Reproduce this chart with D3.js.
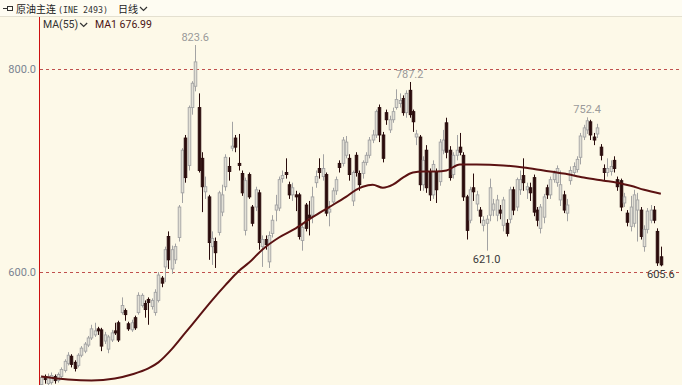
<!DOCTYPE html>
<html>
<head>
<meta charset="utf-8">
<script src="https://cdn.jsdelivr.net/npm/d3@7"></script>
<style>
  body { margin: 0; background: #fdf9e8; }
  svg { display: block; }
</style>
</head>
<body>
<script>
// daily candles, [open, high, low, close]
var ohlc = [
  [489,498,486,496],[497,499,490,494],[490,500,488,497],[491,501,489,498],[497,499,490,493],
  [493,501,491,499],[497,506,495,504],[503,514,501,512],[510,521,508,518],[517,519,506,509],
  [511,513,502,505],[508,520,506,518],[518,527,516,525],[522,531,520,529],[528,537,526,535],
  [535,548,533,544],[538,550,536,542],[544,546,538,542],[543,545,522,527],[532,541,529,538],
  [524,538,520,536],[533,543,531,540],[542,550,538,540],[550,552,531,533],[560,575,558,567],
  [562,564,552,558],[549,551,542,544],[543,553,541,550],[555,557,543,545],[560,580,558,577],
  [567,579,565,577],[569,572,555,563],[573,575,548,570],[566,574,563,572],[560,583,557,580],
  [572,600,570,597],[594,596,585,589],[605,625,590,622],[635,640,603,612],[603,626,598,622],
  [612,628,608,625],[634,666,630,664],[678,722,668,720],[732,735,688,693],[705,764,700,762],
  [762,788,755,786],[783,823.6,778,807],[762,776,698,700],[712,718,659,684],[679,694,672,684],
  [674,676,612,629],[625,640,607,633],[630,634,604,619],[639,680,636,678],[659,686,655,676],
  [684,716,680,713],[704,713,690,699],[722,748,719,724],[732,735,718,723],[707,736,700,705],
  [697,700,675,678],[641,693,636,690],[696,698,672,674],[664,666,645,648],[664,684,660,681],
  [678,681,622,629],[625,636,605,632],[632,636,622,627],[610,640,604,636],[638,656,634,651],
  [661,676,650,666],[663,694,660,691],[692,700,688,695],[698,712,692,696],[686,689,672,676],
  [676,688,670,683],[676,680,660,674],[676,678,632,635],[631,648,621,644],[666,668,640,643],
  [656,670,636,653],[656,684,648,674],[688,700,683,694],[702,712,692,698],[694,716,690,702],
  [696,698,655,658],[659,670,645,662],[669,683,666,680],[680,694,676,691],[707,710,698,703],
  [707,733,704,730],[715,734,712,728],[712,716,690,696],[670,700,665,698],[715,718,694,698],
  [697,700,680,686],[697,710,692,708],[708,718,705,715],[715,733,712,730],[730,740,727,735],
  [735,760,732,758],[762,765,728,735],[735,738,708,712],[757,760,745,750],[740,754,737,750],
  [750,762,747,758],[762,780,760,770],[766,776,762,769],[771,774,754,757],[757,779,752,776],
  [779,787.2,752,755],[758,760,738,748],[733,740,725,736],[733,735,680,686],[686,714,680,710],
  [720,725,678,683],[698,702,670,676],[676,710,672,706],[698,702,668,681],[689,731,685,728],
  [720,740,716,730],[747,752,712,718],[720,724,690,693],[696,718,692,715],[715,735,710,720],
  [723,737,715,718],[715,718,670,674],[674,676,632,641],[651,684,648,681],[683,697,670,679],
  [667,680,660,676],[661,664,648,655],[646,655,640,651],[648,656,621,652],[656,692,650,683],
  [661,672,655,667],[656,676,650,671],[661,666,652,658],[646,674,640,671],[648,652,635,638],
  [652,684,648,681],[681,684,656,661],[664,693,660,691],[681,700,676,691],[695,712,680,688],
  [681,688,672,684],[683,688,670,678],[693,696,655,659],[661,664,645,651],[643,667,638,664],
  [654,677,648,674],[683,686,672,676],[676,694,672,691],[691,700,688,697],[688,705,684,702],
  [671,700,665,686],[676,680,658,661],[658,672,650,666],[690,704,686,700],[698,708,695,704],
  [701,714,698,711],[713,737,706,734],[733,745,730,742],[740,752.4,736,749],[748,750,730,735],
  [733,737,725,730],[736,746,732,742],[723,726,710,715],[702,706,690,698],[698,712,694,702],
  [699,710,695,704],[710,714,698,702],[691,694,680,684],[690,692,660,664],[668,678,664,674],
  [658,661,645,649],[645,675,640,664],[648,681,644,676],[661,678,630,671],[661,664,632,635],
  [625,646,620,642],[642,663,638,660],[651,666,648,661],[661,665,648,651],[640,643,606,609],
  [615,625,605.6,607]
];

var ma55 = [
  [0,497],[8,494],[15,493],[22,495],[27,499],[32,505],[35,511],[39,524],[43,540],[47,556],
  [51,572],[55,587],[59,601],[62,609],[66,622],[71,634],[76,643],[81,654],[86,664],[91,674],
  [94,681],[96,684],[99,686],[102,683],[105,686],[108,693],[111,698],[114,699],[118,699],
  [121,700],[125,706],[130,706],[138,705],[144,703],[150,700],[156,697],[162,693],[168,690],
  [172,688],[176,685],[180,681],[185,677]
];

var yTicks = [600, 800];

// labelled extremes: [candle index, value, "high" | "low"]
var marks = [
  [46, 823.6, "high"], [110, 787.2, "high"], [163, 752.4, "high"],
  [133, 621.0, "low"], [185, 605.6, "low"]
];

var width = 682, height = 385,
    plotTop = 17, plotLeft = 40;

var svg = d3.select("body").append("svg")
    .attr("width", width)
    .attr("height", height);

svg.append("rect")
    .attr("width", width).attr("height", height)
    .attr("fill", "#fdf9e8");

var x = d3.scaleBand()
    .domain(d3.range(ohlc.length))
    .range([plotLeft, 662])
    .paddingInner(0.3);

var y = d3.scaleLinear()
    .domain([600, 800])
    .range([272, 69]);

var cx = function(i) { return x(i) + x.bandwidth() / 2; };

// clip the plotting area
svg.append("clipPath").attr("id", "plot")
  .append("rect")
    .attr("x", plotLeft).attr("y", plotTop)
    .attr("width", width - plotLeft).attr("height", height - plotTop);

var plot = svg.append("g").attr("clip-path", "url(#plot)");

// dashed price lines
plot.selectAll("line.grid")
  .data(yTicks)
  .enter().append("line")
    .attr("class", "grid")
    .attr("x1", plotLeft).attr("x2", width)
    .attr("y1", function(d) { return Math.round(y(d)) + 0.5; })
    .attr("y2", function(d) { return Math.round(y(d)) + 0.5; })
    .attr("stroke", "#c0504d")
    .attr("stroke-width", 1)
    .attr("stroke-dasharray", "3,3");

// y axis labels
var yAxis = d3.axisLeft(y)
    .tickValues(yTicks)
    .tickFormat(d3.format(".1f"))
    .tickSize(0)
    .tickPadding(3);

var gy = svg.append("g")
    .attr("transform", "translate(" + (plotLeft - 1) + ",0)")
    .call(yAxis);
gy.select(".domain").remove();
gy.selectAll("text")
    .attr("fill", "#7b8491")
    .style("font-family", "Roboto, 'DejaVu Sans', sans-serif")
    .style("font-size", "11px");

// candles
var up = function(d) { return d[3] >= d[0]; };

var candles = plot.selectAll("g.candle")
  .data(ohlc)
  .enter().append("g")
    .attr("class", "candle");

candles.append("line")
    .attr("x1", function(d, i) { return Math.round(cx(i)) + 0.5; })
    .attr("x2", function(d, i) { return Math.round(cx(i)) + 0.5; })
    .attr("y1", function(d) { return y(d[1]); })
    .attr("y2", function(d) { return y(d[2]); })
    .attr("stroke", function(d) { return up(d) ? "#a3a3a3" : "#2a0c0c"; })
    .attr("stroke-width", 1);

candles.append("rect")
    .attr("x", function(d, i) { return Math.round(cx(i)) - 0.8; })
    .attr("width", 2.6)
    .attr("y", function(d) { return y(Math.max(d[0], d[3])); })
    .attr("height", function(d) { return Math.max(1, Math.abs(y(d[0]) - y(d[3]))); })
    .attr("fill", function(d) { return up(d) ? "#e2e0d6" : "#2a0c0c"; })
    .attr("stroke", function(d) { return up(d) ? "#a3a3a3" : "#2a0c0c"; })
    .attr("stroke-width", 0.9);

// moving average
var line = d3.line()
    .x(function(d) { return cx(d[0]); })
    .y(function(d) { return y(d[1]); })
    .curve(d3.curveMonotoneX);

plot.append("path")
    .datum(ma55)
    .attr("d", line)
    .attr("fill", "none")
    .attr("stroke", "#5b1212")
    .attr("stroke-width", 2);

// high / low labels
svg.selectAll("text.mark")
  .data(marks)
  .enter().append("text")
    .attr("class", "mark")
    .attr("x", function(d) { return cx(d[0]); })
    .attr("y", function(d) { return d[2] == "high" ? y(d[1]) - 4 : y(d[1]) + 12; })
    .attr("text-anchor", "middle")
    .attr("fill", function(d) { return d[2] == "high" ? "#9a9a9a" : "#3a3a3a"; })
    .style("font-family", "Roboto, 'DejaVu Sans', sans-serif")
    .style("font-size", "11px")
    .text(function(d) { return d3.format(".1f")(d[1]); });

// red left border
svg.append("line")
    .attr("x1", plotLeft - 0.5).attr("x2", plotLeft - 0.5)
    .attr("y1", plotTop).attr("y2", height)
    .attr("stroke", "#cc1010").attr("stroke-width", 1);

// header bar
svg.append("rect")
    .attr("width", width).attr("height", plotTop)
    .attr("fill", "#fefcf2");
svg.append("line")
    .attr("x1", 0).attr("x2", width)
    .attr("y1", plotTop - 0.5).attr("y2", plotTop - 0.5)
    .attr("stroke", "#e4e0d0");

svg.append("rect")
    .attr("x", 7.5).attr("y", 6.5).attr("width", 5).attr("height", 4)
    .attr("fill", "none").attr("stroke", "#333");
svg.append("line")
    .attr("x1", 3).attr("x2", 7).attr("y1", 8.5).attr("y2", 8.5)
    .attr("stroke", "#333");

var cjk = "'Noto Sans CJK SC', sans-serif";
var latin = "Roboto, 'DejaVu Sans', sans-serif";

svg.append("text")
    .attr("x", 16).attr("y", 13)
    .style("font-family", cjk).style("font-size", "10px")
    .attr("fill", "#222")
    .text("原油主连");
svg.append("text")
    .attr("x", 58).attr("y", 12.5)
    .attr("textLength", 50).attr("lengthAdjust", "spacingAndGlyphs")
    .style("font-family", "'DejaVu Sans Mono', monospace").style("font-size", "8.5px")
    .attr("fill", "#333")
    .text("(INE 2493)");
svg.append("text")
    .attr("x", 118).attr("y", 13)
    .style("font-family", cjk).style("font-size", "10px")
    .attr("fill", "#222")
    .text("日线");

// little chevrons
var chevron = function(x0, y0) {
  svg.append("path")
      .attr("d", "M" + x0 + "," + y0 + " l3.5,3.5 l3.5,-3.5")
      .attr("fill", "none").attr("stroke", "#333").attr("stroke-width", 1.2);
};
chevron(140, 7);

var maText = svg.append("text")
    .attr("x", 43).attr("y", 28)
    .style("font-family", latin).style("font-size", "10.5px")
    .attr("fill", "#333")
    .text("MA(55)");
chevron(43 + maText.node().getComputedTextLength() + 2, 23);
svg.append("text")
    .attr("x", 95).attr("y", 28)
    .style("font-family", latin).style("font-size", "10.5px")
    .attr("fill", "#4a1414")
    .text("MA1 676.99");
</script>
</body>
</html>
